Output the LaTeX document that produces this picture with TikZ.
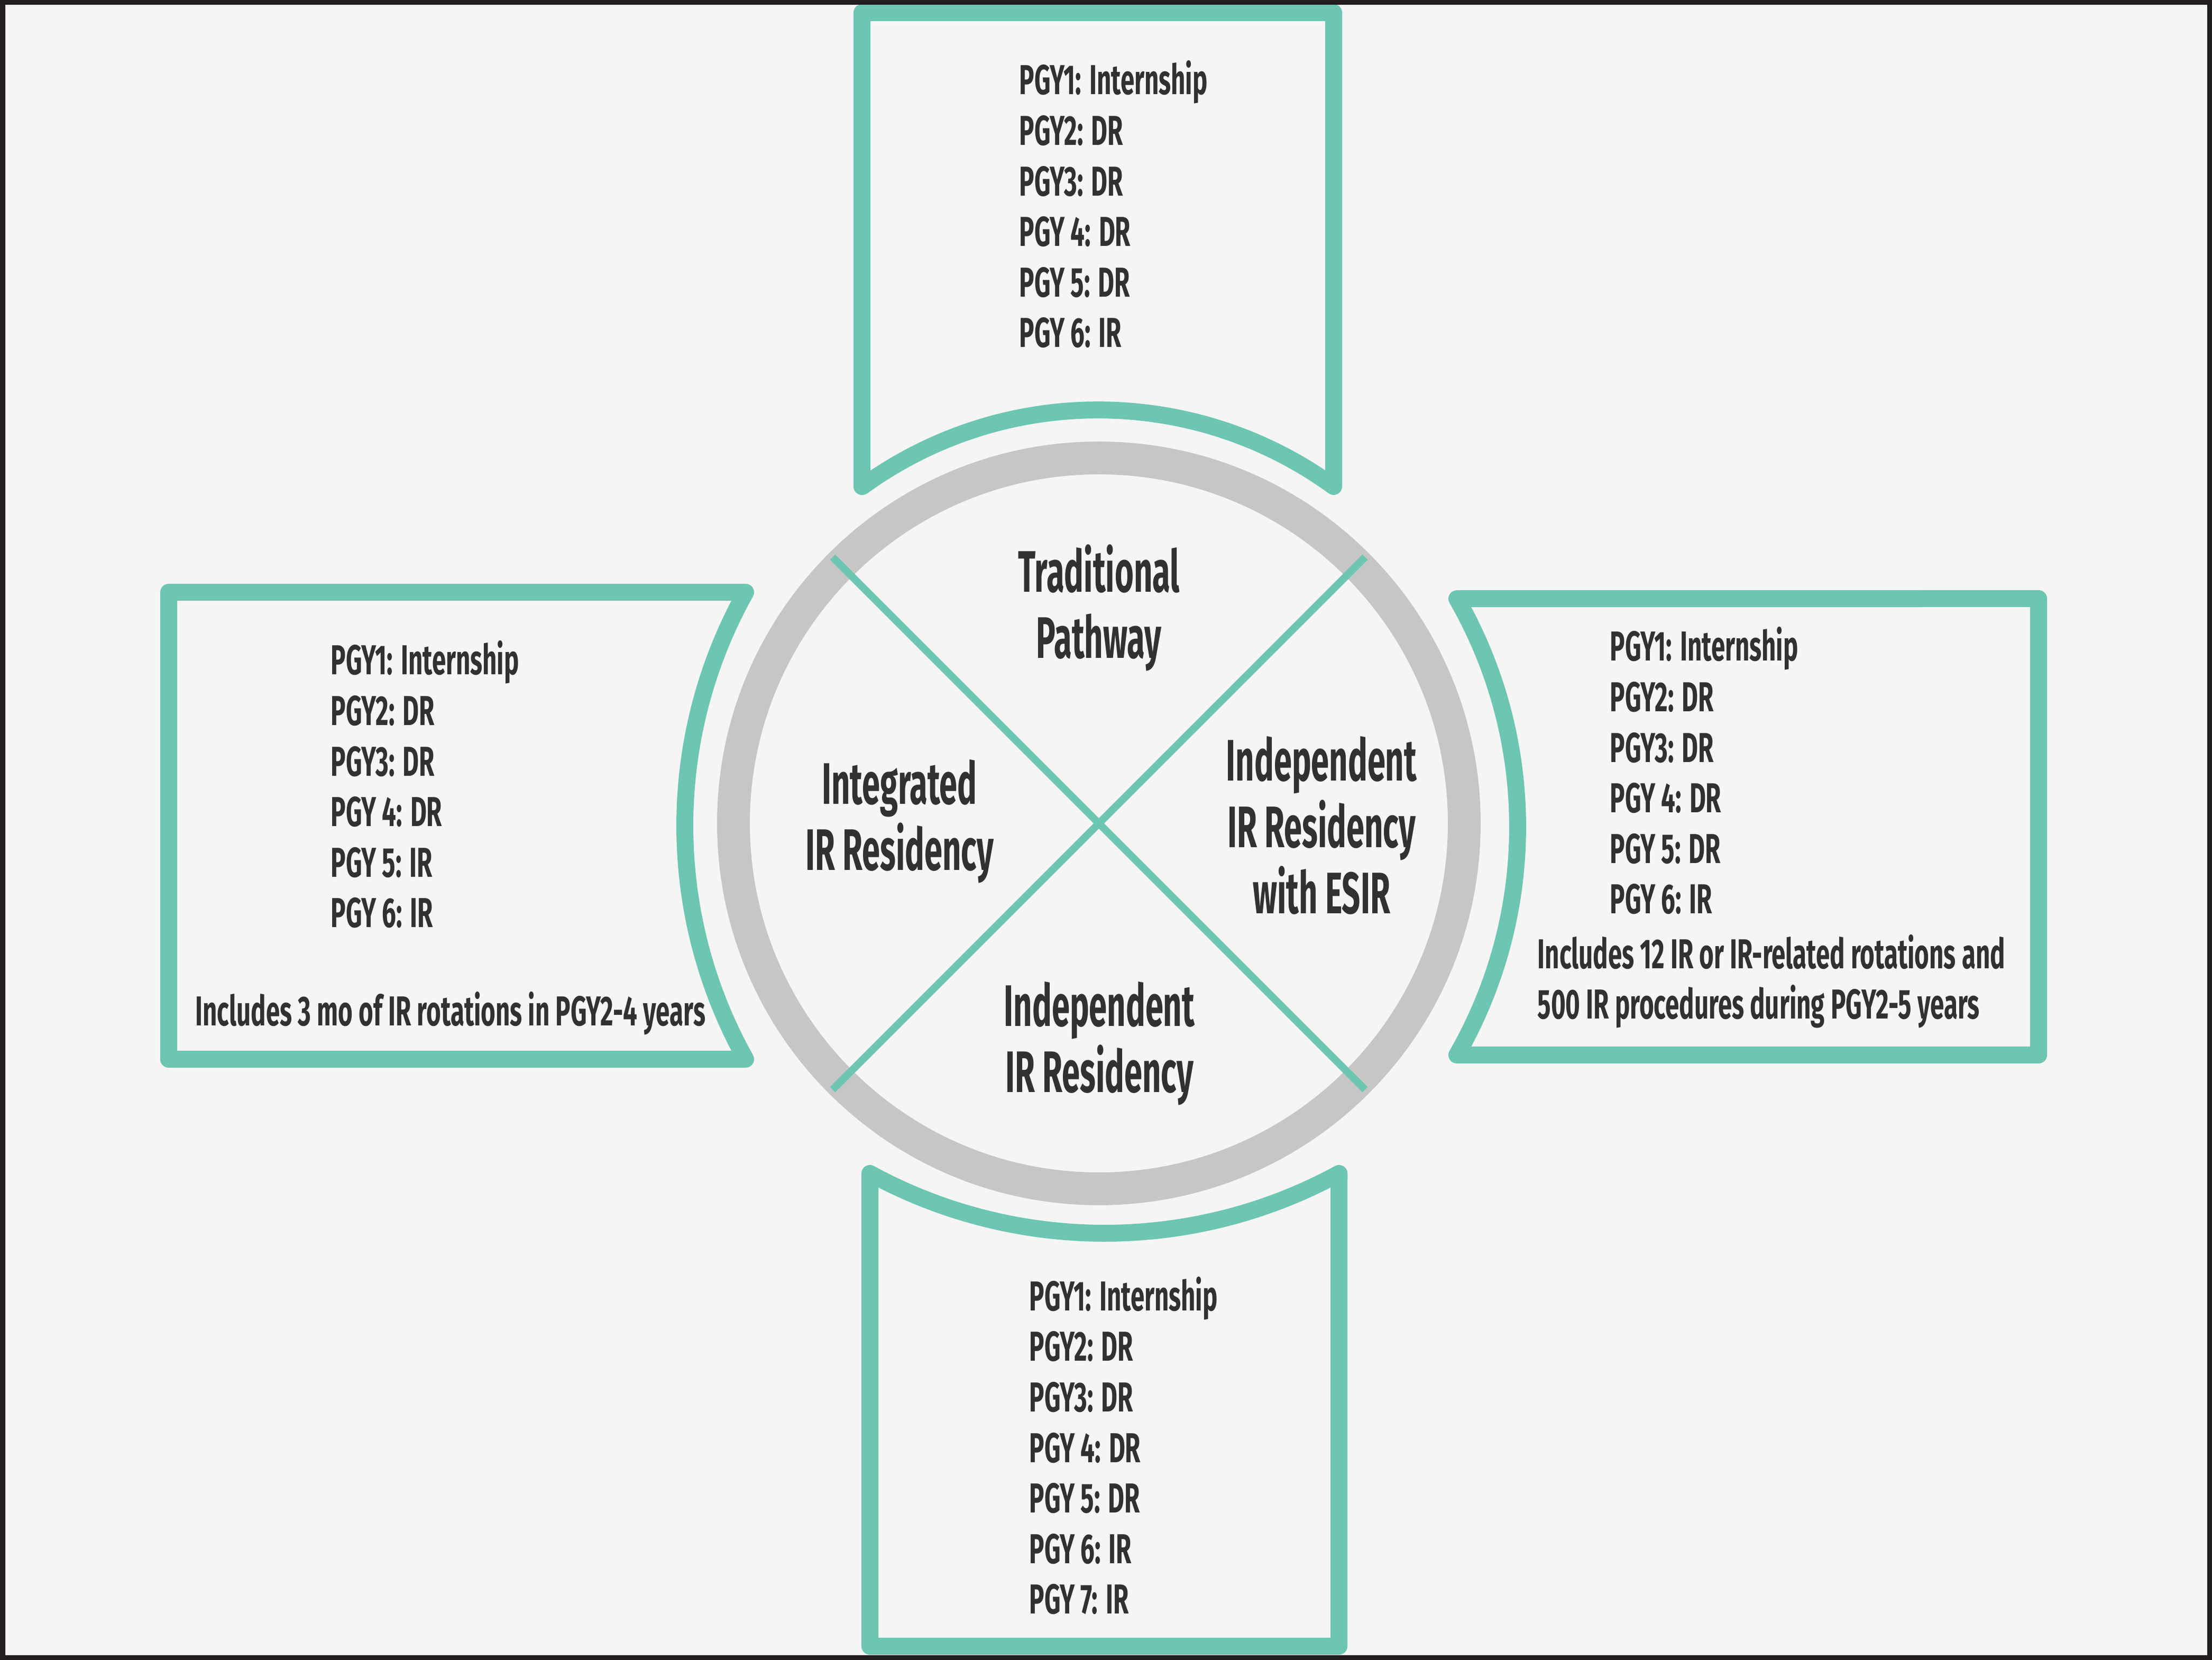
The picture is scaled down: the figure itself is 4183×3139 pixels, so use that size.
\documentclass[tikz,border=0pt]{standalone}
\usepackage{fontspec}
\setmainfont{Fira Sans}[FakeStretch=0.6]
\newfontfamily\titlefam{Fira Sans}[FakeStretch=0.555]
\usepackage{tikz}
\usetikzlibrary{calc}
\definecolor{tealline}{HTML}{6CC6B2}
\definecolor{ringgray}{HTML}{C6C6C6}
\definecolor{pagebg}{HTML}{F5F5F5}
\definecolor{framedark}{HTML}{231F20}
\definecolor{txtdark}{HTML}{313131}
\newcommand{\listfont}{\fontsize{22.5}{27.2}\selectfont\bfseries}
\newcommand{\titlefont}{\titlefam\fontsize{31.5}{35.8}\selectfont\bfseries}

\begin{document}
\begin{tikzpicture}[x=0.1mm, y=0.1mm,
	banner/.style={draw=tealline, line width=3.2mm, line join=round, line cap=round},
	years/.style={align=left, anchor=base west, inner sep=0pt, text=txtdark, font=\listfont},
	pathway/.style={align=center, anchor=base, inner sep=0pt, text=txtdark, font=\titlefont}]
	\useasboundingbox (0,0) rectangle (4183,3139);
	\fill[pagebg] (0,0) rectangle (4183,3139);
	
	\coordinate (ring) at (2078,1582);
	\def\rr{712};
	
	\draw[ringgray, line width=6.2mm] (ring) circle[radius=691];
	\coordinate (nw) at ($(ring)+(135:\rr)$);
	\coordinate (ne) at ($(ring)+(45:\rr)$);
	\coordinate (sw) at ($(ring)+(225:\rr)$);
	\coordinate (se) at ($(ring)+(-45:\rr)$);
	\draw[tealline, line width=1.4mm] (nw) -- (se);
	\draw[tealline, line width=1.4mm] (ne) -- (sw);
	
	% anchors sit on the last line of each text
	\node[pathway] (trad) at (2078,1894) {Traditional\\Pathway};
	\node[pathway] (integ) at (1701,1493) {Integrated\\IR Residency};
	\node[pathway] (esir) at (2499,1411) {Independent\\IR Residency\\with ESIR};
	\node[pathway] (indep) at (2079,1073) {Independent\\IR Residency};
	
	\draw[banner] (1630,2219) -- (1630,3115) -- (2522,3115) -- (2522,2219)
		arc[start angle=54, end angle=126, radius=758] -- cycle;
	\draw[banner] (1645,920) arc[start angle=241.4, end angle=298.6, radius=926.8]
		-- (2532,26) -- (1645,26) -- cycle;
	\draw[banner] (319,1136) -- (319,2019) -- (1410,2019)
		arc[start angle=150.8, end angle=209.2, radius=905] -- cycle;
	\draw[banner] (2755,1144) arc[start angle=-29.84, end angle=29.84, radius=867]
		-- (3855,2007) -- (3855,1144) -- cycle;
	
	\node[years] (trad years) at (1927,2482) {PGY1: Internship\\PGY2: DR\\PGY3: DR\\PGY 4: DR\\PGY 5: DR\\PGY 6: IR};
	\node[years] (indep years) at (1946,87) {PGY1: Internship\\PGY2: DR\\PGY3: DR\\PGY 4: DR\\PGY 5: DR\\PGY 6: IR\\PGY 7: IR};
	\node[years] (integ years) at (625,1385) {PGY1: Internship\\PGY2: DR\\PGY3: DR\\PGY 4: DR\\PGY 5: IR\\PGY 6: IR};
	\node[years] (integ note) at (369,1199) {Includes 3 mo of IR rotations in PGY2-4 years};
	\node[years] (esir years) at (3044,1411) {PGY1: Internship\\PGY2: DR\\PGY3: DR\\PGY 4: DR\\PGY 5: DR\\PGY 6: IR};
	\node[years] (esir note) at (2907,1212) {Includes 12 IR or IR-related rotations and\\500 IR procedures during PGY2-5 years};
	
	\fill[framedark, even odd rule] (0,0) rectangle (4183,3139) (10,9) rectangle (4174,3130);
\end{tikzpicture}
\end{document}
